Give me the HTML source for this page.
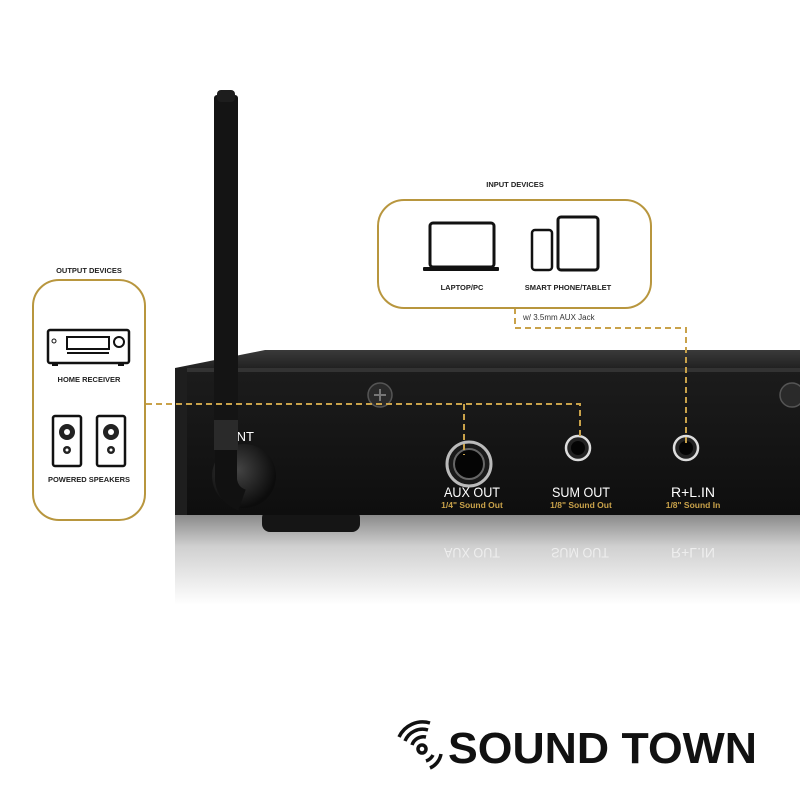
<!DOCTYPE html>
<html><head><meta charset="utf-8"><style>
html,body{margin:0;padding:0;background:#fff;}
svg{display:block;}
text{font-family:"Liberation Sans",sans-serif;}
</style></head><body>
<svg width="800" height="800" viewBox="0 0 800 800" xmlns="http://www.w3.org/2000/svg">
<defs>
<linearGradient id="refl" x1="0" y1="0" x2="0" y2="1">
<stop offset="0" stop-color="#8a8a8a"/><stop offset="0.35" stop-color="#d0d0d0"/><stop offset="1" stop-color="#ffffff"/>
</linearGradient>
<linearGradient id="topg" x1="0" y1="0" x2="0" y2="1">
<stop offset="0" stop-color="#3a3a3a"/><stop offset="1" stop-color="#1c1c1c"/>
</linearGradient>
<linearGradient id="front" x1="0" y1="0" x2="0" y2="1">
<stop offset="0" stop-color="#1c1c1c"/><stop offset="1" stop-color="#0e0e0e"/>
</linearGradient>
<radialGradient id="knob" cx="0.4" cy="0.4" r="0.6">
<stop offset="0" stop-color="#444"/><stop offset="1" stop-color="#0c0c0c"/>
</radialGradient>
</defs>
<rect width="800" height="800" fill="#fff"/>
<!-- reflection -->
<rect x="175" y="515" width="625" height="90" fill="url(#refl)"/>
<text x="472" y="548" font-size="14" fill="#eee" text-anchor="middle" transform="translate(0,1096) scale(1,-1)" textLength="56" lengthAdjust="spacingAndGlyphs">AUX OUT</text>
<text x="580" y="548" font-size="14" fill="#eee" text-anchor="middle" transform="translate(0,1096) scale(1,-1)" textLength="58" lengthAdjust="spacingAndGlyphs">SUM OUT</text>
<text x="693" y="548" font-size="14" fill="#eee" text-anchor="middle" transform="translate(0,1096) scale(1,-1)" textLength="44" lengthAdjust="spacingAndGlyphs">R+L.IN</text>
<!-- foot -->
<rect x="262" y="510" width="98" height="22" rx="8" fill="#151515"/>
<!-- device top -->
<polygon points="175,368 265,350 800,350 800,372 175,372" fill="url(#topg)"/>
<!-- front face -->
<rect x="175" y="368" width="625" height="147" fill="url(#front)"/>
<rect x="175" y="368" width="625" height="4" fill="#333"/>
<rect x="175" y="368" width="12" height="147" fill="#1e1e1e"/>
<!-- screws -->
<circle cx="380" cy="395" r="12" fill="#2a2a2a" stroke="#555" stroke-width="1.5"/>
<path d="M374 395h12M380 389v12" stroke="#777" stroke-width="2"/>
<circle cx="792" cy="395" r="12" fill="#2a2a2a" stroke="#555" stroke-width="1.5"/>
<!-- jacks -->
<circle cx="469" cy="464" r="22" fill="#1a1a1a" stroke="#bbb" stroke-width="3"/>
<circle cx="469" cy="464" r="15" fill="#050505" stroke="#666" stroke-width="2"/>
<circle cx="578" cy="448" r="12" fill="#222" stroke="#ddd" stroke-width="2.5"/>
<circle cx="578" cy="448" r="7" fill="#050505"/>
<circle cx="686" cy="448" r="12" fill="#222" stroke="#ddd" stroke-width="2.5"/>
<circle cx="686" cy="448" r="7" fill="#050505"/>
<!-- labels -->
<text x="472" y="497" font-size="14" fill="#fff" text-anchor="middle" textLength="56" lengthAdjust="spacingAndGlyphs">AUX OUT</text>
<text x="472" y="508" font-size="8.5" fill="#c9a24a" text-anchor="middle" font-weight="bold">1/4" Sound Out</text>
<text x="581" y="497" font-size="14" fill="#fff" text-anchor="middle" textLength="58" lengthAdjust="spacingAndGlyphs">SUM OUT</text>
<text x="581" y="508" font-size="8.5" fill="#c9a24a" text-anchor="middle" font-weight="bold">1/8" Sound Out</text>
<text x="693" y="497" font-size="14" fill="#fff" text-anchor="middle" textLength="44" lengthAdjust="spacingAndGlyphs">R+L.IN</text>
<text x="693" y="508" font-size="8.5" fill="#c9a24a" text-anchor="middle" font-weight="bold">1/8" Sound In</text>
<text x="228" y="441" font-size="13" fill="#fff">ANT</text>
<!-- antenna -->
<rect x="214" y="95" width="24" height="340" rx="3" fill="#141414"/>
<rect x="217" y="90" width="18" height="12" rx="4" fill="#1d1d1d"/>
<circle cx="244" cy="476" r="32" fill="url(#knob)"/>
<path d="M226 430 L226 480 Q228 495 242 500" stroke="#111" stroke-width="22" fill="none"/>
<rect x="214" y="420" width="24" height="30" fill="#2a2a2a"/>
<!-- dashed connectors -->
<g stroke="#c9a24a" stroke-width="2" stroke-dasharray="6,4" fill="none">
<path d="M146 404 H580 V440"/>
<path d="M464 404 V455"/>
<path d="M515 308 V328 H686 V445"/>
</g>
<!-- output box -->
<rect x="33" y="280" width="112" height="240" rx="26" fill="#fff" stroke="#b8963e" stroke-width="2"/>
<text x="89" y="273" font-size="7.5" font-weight="bold" fill="#222" text-anchor="middle">OUTPUT DEVICES</text>
<!-- receiver -->
<rect x="48" y="330" width="81" height="33" rx="2" fill="#fff" stroke="#111" stroke-width="2.5"/>
<rect x="67" y="337" width="42" height="12" fill="none" stroke="#111" stroke-width="2"/>
<rect x="67" y="352" width="42" height="2" fill="#111"/>
<circle cx="119" cy="342" r="5" fill="none" stroke="#111" stroke-width="2"/>
<circle cx="54" cy="341" r="2" fill="none" stroke="#111" stroke-width="1"/>
<rect x="52" y="363" width="6" height="3" fill="#111"/><rect x="118" y="363" width="6" height="3" fill="#111"/>
<text x="89" y="382" font-size="7.5" font-weight="bold" fill="#222" text-anchor="middle">HOME RECEIVER</text>
<!-- speakers -->
<rect x="53" y="416" width="28" height="50" rx="2" fill="#fff" stroke="#111" stroke-width="2.5"/>
<circle cx="67" cy="432" r="8" fill="#222"/><circle cx="67" cy="432" r="3" fill="#fff"/>
<circle cx="67" cy="450" r="4" fill="#222"/><circle cx="67" cy="450" r="1.5" fill="#fff"/>
<rect x="97" y="416" width="28" height="50" rx="2" fill="#fff" stroke="#111" stroke-width="2.5"/>
<circle cx="111" cy="432" r="8" fill="#222"/><circle cx="111" cy="432" r="3" fill="#fff"/>
<circle cx="111" cy="450" r="4" fill="#222"/><circle cx="111" cy="450" r="1.5" fill="#fff"/>
<text x="89" y="482" font-size="7.5" font-weight="bold" fill="#222" text-anchor="middle">POWERED SPEAKERS</text>
<!-- input box -->
<rect x="378" y="200" width="273" height="108" rx="26" fill="#fff" stroke="#b8963e" stroke-width="2"/>
<text x="515" y="187" font-size="7.5" font-weight="bold" fill="#222" text-anchor="middle">INPUT DEVICES</text>
<rect x="430" y="223" width="64" height="44" rx="3" fill="#fff" stroke="#111" stroke-width="3"/>
<rect x="423" y="267" width="76" height="4" rx="1" fill="#111"/>
<text x="462" y="290" font-size="7.5" font-weight="bold" fill="#222" text-anchor="middle">LAPTOP/PC</text>
<rect x="532" y="230" width="20" height="40" rx="3" fill="#fff" stroke="#111" stroke-width="2.5"/>
<rect x="558" y="217" width="40" height="53" rx="3" fill="#fff" stroke="#111" stroke-width="3"/>
<text x="568" y="290" font-size="7.5" font-weight="bold" fill="#222" text-anchor="middle">SMART PHONE/TABLET</text>
<text x="523" y="320" font-size="8" fill="#333">w/ 3.5mm AUX Jack</text>
<!-- logo -->
<g fill="none" stroke="#111" stroke-width="3.5">
<circle cx="422" cy="749" r="4"/>
<path d="M412 745 A12 12 0 0 1 426 737"/>
<path d="M405 741 A19 19 0 0 1 428 730"/>
<path d="M399 737 A26 26 0 0 1 430 723"/>
<path d="M433 755 A12 12 0 0 1 426 761"/>
<path d="M441 754 A19 19 0 0 1 430 768"/>
</g>
<text x="448" y="763" font-size="44" font-weight="bold" fill="#111" textLength="309" lengthAdjust="spacingAndGlyphs">SOUND TOWN</text>
</svg>
</body></html>
